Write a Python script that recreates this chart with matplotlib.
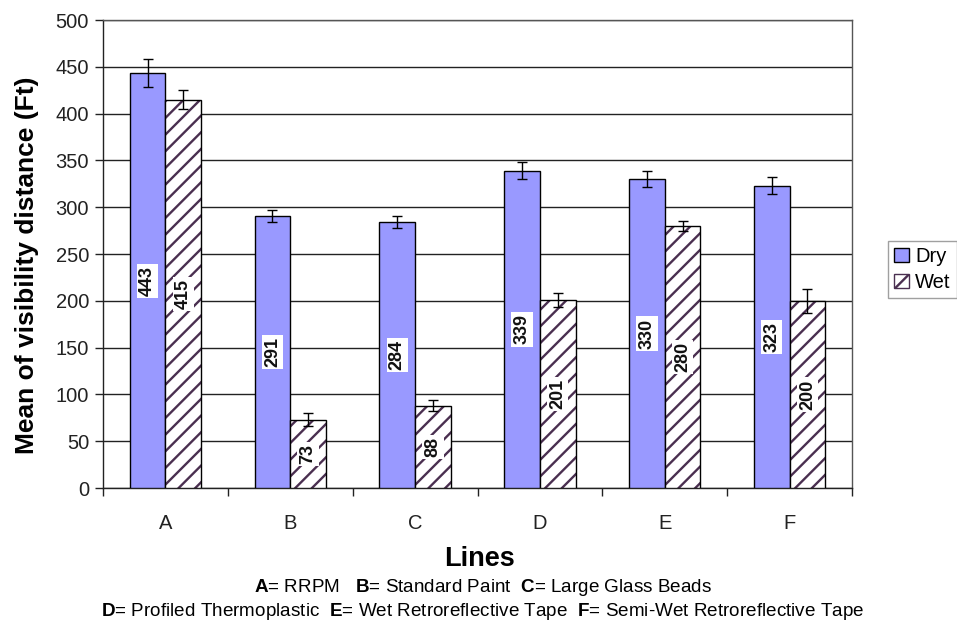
import numpy as np
import matplotlib
matplotlib.use('Agg')
import matplotlib.pyplot as plt

plt.rcParams['font.family'] = ['Liberation Sans', 'DejaVu Sans']
plt.rcParams['mathtext.fontset'] = 'custom'
plt.rcParams['mathtext.rm'] = 'Liberation Sans'
plt.rcParams['mathtext.bf'] = 'Liberation Sans:bold'
plt.rcParams['hatch.linewidth'] = 1.7

# data
lines = ['A', 'B', 'C', 'D', 'E', 'F']
dry = [443, 291, 284, 339, 330, 323]
wet = [415, 73, 88, 201, 280, 200]
dry_err = [15, 6.5, 6.5, 9, 8.5, 9]
wet_err = [10, 7, 5.5, 7.5, 5, 13]
yticks = [0, 50, 100, 150, 200, 250, 300, 350, 400, 450, 500]

fig = plt.figure(figsize=(9.57, 6.24), dpi=100)
ax = fig.add_axes([103/957, 1-488/624, (852-103)/957, (488-20)/624])

x = np.arange(len(lines))
w = 0.286
b1 = ax.bar(x - w/2, dry, w, color='#9999ff', edgecolor='black', linewidth=1.0, zorder=3, label='Dry')
# hatch layer (hatch takes the edge colour), then a black outline on top
b2 = ax.bar(x + w/2, wet, w, color='white', edgecolor='#4a2f50', linewidth=0, hatch='//', zorder=3, label='Wet')
ax.bar(x + w/2, wet, w, color='none', edgecolor='black', linewidth=1.0, zorder=3)
ax.errorbar(x - w/2, dry, yerr=dry_err, fmt='none', ecolor='black', elinewidth=1, capsize=3.3, capthick=1, zorder=4)
ax.errorbar(x + w/2, wet, yerr=wet_err, fmt='none', ecolor='black', elinewidth=1, capsize=3.3, capthick=1, zorder=4)

for i in range(len(lines)):
	ax.text(x[i] - w/2, dry[i]/2, str(dry[i]), rotation=90, ha='center', va='center', fontsize=13,
		fontweight='bold', color='#111111', zorder=5, bbox=dict(facecolor='white', edgecolor='none', pad=1.5))
	ax.text(x[i] + w/2, wet[i]/2, str(wet[i]), rotation=90, ha='center', va='center', fontsize=13,
		fontweight='bold', color='#111111', zorder=5, bbox=dict(facecolor='white', edgecolor='none', pad=1.5))

ax.set_xlim(-0.5, len(lines) - 0.5)
ax.set_ylim(0, 500)
ax.set_yticks(yticks)
ax.set_yticklabels([str(t) for t in yticks], fontsize=14.5, color='#222222')
ax.yaxis.grid(True, color='#222222', linewidth=1.0, zorder=0)
ax.set_xticks(np.arange(len(lines) + 1) - 0.5)
ax.set_xticklabels([])
ax.set_xticks(x, minor=True)
ax.set_xticklabels(lines, minor=True, fontsize=14.5, color='#222222')
ax.tick_params(axis='x', which='major', direction='out', length=6, width=1, color='#222222')
ax.tick_params(axis='x', which='minor', length=0, pad=19)
ax.tick_params(axis='y', direction='out', length=6, width=1, color='#222222', pad=4)
for s in ['left', 'bottom']:
	ax.spines[s].set_color('#222222')
	ax.spines[s].set_linewidth(1.0)
for s in ['top', 'right']:
	ax.spines[s].set_color('#555555')
	ax.spines[s].set_linewidth(1.0)

fig.text(27/957, 1-265/624, 'Mean of visibility distance (Ft)', rotation=90, ha='center', va='center',
	fontsize=19, fontweight='bold')
fig.text(479/957, 1-559/624, 'Lines', ha='center', va='center', fontsize=19.5, fontweight='bold')
fig.text(483/957, 1-587/624, r'$\mathbf{A}$= RRPM   $\mathbf{B}$= Standard Paint  $\mathbf{C}$= Large Glass Beads',
	ha='center', va='center', fontsize=13.6)
fig.text(483/957, 1-611/624, r'$\mathbf{D}$= Profiled Thermoplastic  $\mathbf{E}$= Wet Retroreflective Tape  $\mathbf{F}$= Semi-Wet Retroreflective Tape',
	ha='center', va='center', fontsize=13.6)

leg = fig.legend(handles=[b1, b2], labels=['Dry', 'Wet'], loc='upper left',
	bbox_to_anchor=(888/957, 1-241/624), fontsize=14.5, frameon=True, fancybox=False,
	handlelength=0.75, handleheight=0.75, handletextpad=0.3, borderpad=0.3, labelspacing=0.35,
	borderaxespad=0)
leg.get_frame().set_edgecolor('#888888')
leg.get_frame().set_linewidth(1.0)
leg.legend_handles[1].set_edgecolor('#4a2f50')
leg.legend_handles[1].set_linewidth(1.0)

fig.savefig('out.png', dpi=100)
